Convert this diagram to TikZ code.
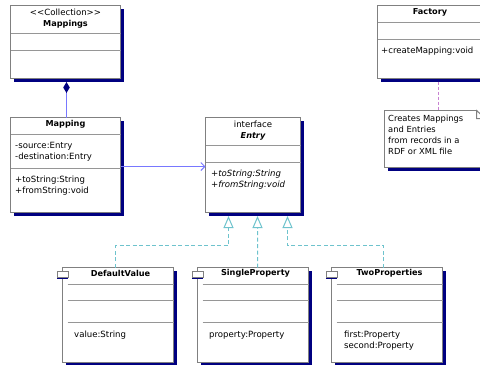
\documentclass[tikz,border=0pt]{standalone}
\usepackage{fontspec}
\setmainfont{DejaVu Sans}
\usepackage{tikz}
\usetikzlibrary{arrows.meta,shapes,positioning,shadows}
\usepackage{xcolor}
\definecolor{umlnavy}{RGB}{0,0,128}
\definecolor{umlgray}{RGB}{128,128,128}
\definecolor{umlsep}{RGB}{150,150,150}
\definecolor{umlblue}{RGB}{120,120,255}
\definecolor{umlteal}{RGB}{110,195,205}
\definecolor{umlpink}{RGB}{200,130,210}
\tikzstyle{classbox} = [draw=umlgray, line width=1bp, fill=white, anchor=north west, inner sep=0pt, outer sep=0pt, general shadow={fill=umlnavy, shadow xshift=3bp, shadow yshift=-3bp}]
\tikzstyle{sepline} = [umlsep, line width=1bp]
\tikzstyle{classname} = [inner sep=0pt, font=\fontsize{8.2}{10}\selectfont\bfseries]
\tikzstyle{member} = [anchor=west, inner sep=0pt, align=left, font=\fontsize{8.6}{11.2}\selectfont]
\tikzstyle{icon} = [draw=umlgray, line width=1bp, fill=white, minimum width=11bp, minimum height=6bp, inner sep=0pt, general shadow={fill=umlnavy, shadow yshift=-1.5bp}]
\tikzstyle{complink} = [draw=umlblue, line width=1bp, -{Diamond[color=umlnavy, length=11bp, width=6.5bp]}]
\tikzstyle{assoc} = [draw=umlblue, line width=1bp, -{Straight Barb[length=4bp, width=8bp]}]
\tikzstyle{realize} = [draw=umlteal, line width=1bp, dash pattern=on 4bp off 2.5bp, -{Triangle[open, fill=white, length=12bp, width=10bp]}]
\tikzstyle{notelink} = [draw=umlpink, line width=1bp, dash pattern=on 3bp off 2bp]

\begin{document}
\begin{tikzpicture}[x=1bp, y=-1bp]
\useasboundingbox (0,0) rectangle (480,364);

% Mappings collection
\node[classbox, minimum width=110bp, minimum height=73bp] (mappings) at (10.5,5.5) {};
\node[member, anchor=center] (mappingsstereo) at (65.5,12.5) {<\kern0pt<Collection>\kern0pt>};
\node[classname] (mappingsname) at (65.5,24) {Mappings};
\draw[sepline] (mappings.west |- 0,33.5) -- (mappings.east |- 0,33.5);
\draw[sepline] (mappings.west |- 0,50.5) -- (mappings.east |- 0,50.5);

% Mapping
\node[classbox, minimum width=110bp, minimum height=95bp] (mapping) at (10.5,117.5) {};
\node[classname] (mappingname) at (65.5,124.5) {Mapping};
\draw[sepline] (mapping.west |- 0,134.5) -- (mapping.east |- 0,134.5);
\node[member] (mappingattr) at (15,152) {-source:Entry\\-destination:Entry};
\draw[sepline] (mapping.west |- 0,168.5) -- (mapping.east |- 0,168.5);
\node[member] (mappingops) at (15,186) {+toString:String\\+fromString:void};

% Entry interface
\node[classbox, minimum width=95bp, minimum height=95bp] (entry) at (205.5,117.5) {};
\node[member, anchor=center] (entrystereo) at (253,124.3) {interface};
\node[classname, font=\fontsize{8.2}{10}\selectfont\bfseries\itshape] (entryname) at (253,136) {Entry};
\draw[sepline] (entry.west |- 0,145.5) -- (entry.east |- 0,145.5);
\draw[sepline] (entry.west |- 0,162.5) -- (entry.east |- 0,162.5);
\node[member, font=\fontsize{8.6}{11.2}\selectfont\itshape] (entryops) at (211,180) {+toString:String\\+fromString:void};

% Factory
\node[classbox, minimum width=110bp, minimum height=73bp] (factory) at (377.5,5.5) {};
\node[classname] (factoryname) at (430,12.5) {Factory};
\draw[sepline] (factory.west |- 0,22.5) -- (factory.east |- 0,22.5);
\draw[sepline] (factory.west |- 0,39.5) -- (factory.east |- 0,39.5);
\node[member] (factoryops) at (381,51) {+createMapping:void};

% Note
\node[classbox, minimum width=101bp, minimum height=57bp] (note) at (384.5,110.5) {};
\fill[white] ([xshift=-9bp,yshift=0.8bp]note.north east) -- ([xshift=0.8bp,yshift=0.8bp]note.north east) -- ([xshift=0.8bp,yshift=-8bp]note.north east) -- cycle;
\draw[umlgray, line width=1bp] ([xshift=-9bp]note.north east) -- ([xshift=-9bp,yshift=-8bp]note.north east) -- ([yshift=-8bp]note.north east) -- cycle;
\node[member, font=\fontsize{8.4}{11}\selectfont] (notetext) at (388,135) {Creates Mappings\\and Entries\\from records in a\\RDF or XML file};

% Implementations
\node[classbox, minimum width=111bp, minimum height=95bp] (defval) at (62.5,267.5) {};
\node[classbox, minimum width=111bp, minimum height=95bp] (single) at (197.5,267.5) {};
\node[classbox, minimum width=111bp, minimum height=95bp] (twoprop) at (331.5,267.5) {};
\foreach \cls in {defval,single,twoprop} {
  \node[icon] (\cls icon) at ([yshift=-7bp]\cls.north west) {};
  \foreach \y in {284.5,300.5,322.5}
    \draw[sepline] ([xshift=5bp]\cls.west |- 0,\y) -- (\cls.east |- 0,\y);
}
\node[classname] (defvalname) at ([xshift=2.5bp]defval.north |- 0,273.5) {DefaultValue};
\node[member] (defvalattr) at (74,335) {value:String};
\node[classname] (singlename) at ([xshift=2.5bp]single.north |- 0,273.5) {SingleProperty};
\node[member] (singleattr) at (209,335) {property:Property};
\node[classname] (twopropname) at ([xshift=2.5bp]twoprop.north |- 0,273.5) {TwoProperties};
\node[member] (twopropattr) at (344,340.5) {first:Property\\second:Property};

% Links
\draw[complink] ([xshift=1bp]mapping.north) -- ([xshift=1bp,yshift=-3.5bp]mappings.south);
\draw[assoc] ([yshift=-1.5bp]mapping.east) -- ([yshift=-1.5bp]entry.west);
\draw[realize] ([xshift=-2.5bp]defval.north) -- ++(0,-22) -| ([xshift=-24.5bp,yshift=-3.5bp]entry.south);
\draw[realize] ([xshift=4.5bp]single.north) -- ([xshift=4.5bp,yshift=-3.5bp]entry.south);
\draw[realize] ([xshift=-3.5bp]twoprop.north) -- ++(0,-22) -| ([xshift=34.5bp,yshift=-3.5bp]entry.south);
\draw[notelink] ([xshift=6bp,yshift=-3bp]factory.south) -- ([xshift=6bp]factory.south |- note.north);
\end{tikzpicture}
\end{document}
